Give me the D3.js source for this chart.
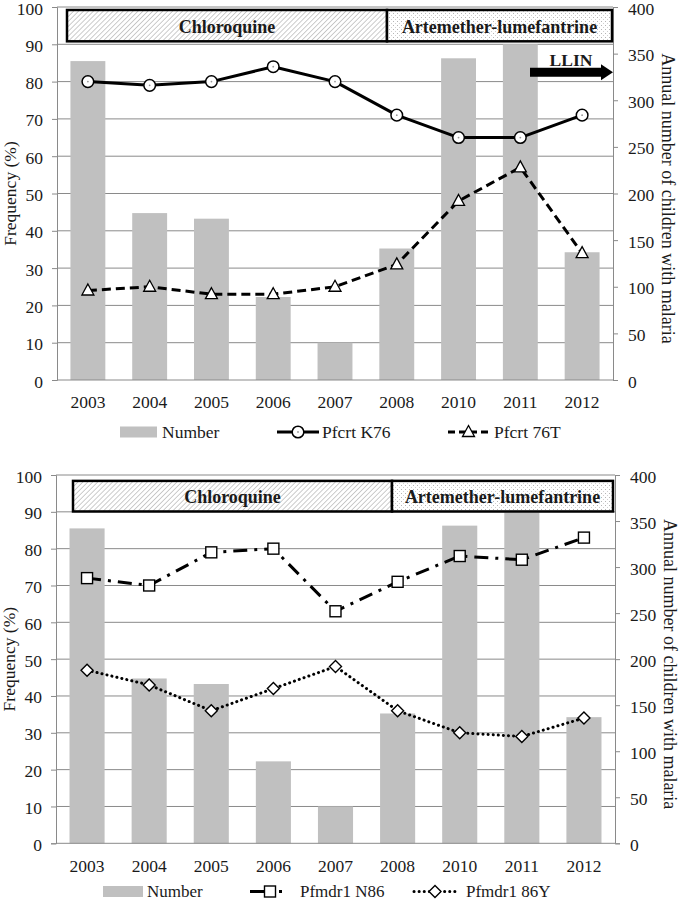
<!DOCTYPE html>
<html>
<head>
<meta charset="utf-8">
<script src="https://cdn.jsdelivr.net/npm/d3@7"></script>
<style>
  html, body { margin: 0; padding: 0; background: #fff; }
  svg { display: block; }
  text { font-family: "Liberation Serif", "Times New Roman", serif; fill: #1a1a1a; }
</style>
</head>
<body>
<svg id="chart" width="680" height="902"></svg>
<script>
// ---------- DATA ----------
const years = ["2003", "2004", "2005", "2006", "2007", "2008", "2010", "2011", "2012"];
const numberChildren = [342, 179, 173, 89, 40, 141, 345, 360, 137];
const pfcrtK76 = [80, 79, 80, 84, 80, 71, 65, 65, 71];
const pfcrt76T = [24, 25, 23, 23, 25, 31, 48, 57, 34];
const pfmdr1N86 = [72, 70, 79, 80, 63, 71, 78, 77, 83];
const pfmdr1_86Y = [47, 43, 36, 42, 48, 36, 30, 29, 34];
const leftTicks = [0, 10, 20, 30, 40, 50, 60, 70, 80, 90, 100];
const rightTicks = [0, 50, 100, 150, 200, 250, 300, 350, 400];
const drugLabels = ["Chloroquine", "Artemether-lumefantrine"];
const legendTop = ["Number", "Pfcrt K76", "Pfcrt 76T"];
const legendBottom = ["Number", "Pfmdr1 N86", "Pfmdr1 86Y"];

const svg = d3.select("#chart");
const defs = svg.append("defs");

// hatch pattern
const hatch = defs.append("pattern").attr("id", "hatch")
  .attr("patternUnits", "userSpaceOnUse").attr("width", 3.5).attr("height", 3.5)
  .attr("patternTransform", "rotate(45)");
hatch.append("rect").attr("width", 3.5).attr("height", 3.5).attr("fill", "#fff");
hatch.append("line").attr("x1", 0).attr("y1", 0).attr("x2", 0).attr("y2", 3.5)
  .attr("stroke", "#9a9a9a").attr("stroke-width", 1);
// dotted pattern
const dots = defs.append("pattern").attr("id", "dots")
  .attr("patternUnits", "userSpaceOnUse").attr("width", 4).attr("height", 4);
dots.append("rect").attr("width", 4).attr("height", 4).attr("fill", "#fff");
dots.append("rect").attr("x", 1).attr("y", 1).attr("width", 1).attr("height", 1).attr("fill", "#b5b5b5");
dots.append("rect").attr("x", 3).attr("y", 3).attr("width", 1).attr("height", 1).attr("fill", "#d0d0d0");

const BAR = "#c0c0c0";
const GRID = "#8a8a8a";
const FONT = 17.5;

function marker(sel, type, x, y) {
  const g = sel.append("g").attr("transform", `translate(${x},${y})`);
  if (type === "circle") {
    g.append("circle").attr("r", 5.8).attr("fill", "#fff").attr("stroke", "#000").attr("stroke-width", 1.5);
    g.append("circle").attr("r", 0.9).attr("fill", "#999");
  } else if (type === "triangle") {
    g.append("path").attr("d", "M0,-6.5 L6,4.5 L-6,4.5 Z").attr("fill", "#fff").attr("stroke", "#000").attr("stroke-width", 1.3);
  } else if (type === "square") {
    g.append("rect").attr("x", -5.5).attr("y", -5.5).attr("width", 11).attr("height", 11)
      .attr("fill", "#fff").attr("stroke", "#000").attr("stroke-width", 1.4);
  } else if (type === "diamond") {
    g.append("path").attr("d", "M0,-6 L6,0 L0,6 L-6,0 Z").attr("fill", "#fff").attr("stroke", "#000").attr("stroke-width", 1.4);
  }
}

function panel(cfg) {
  const g = svg.append("g");
  const x = d3.scaleBand().domain(years).range([cfg.left, cfg.right]).paddingInner(0.435).paddingOuter(0.2175);
  const y = d3.scaleLinear().domain([0, 100]).range([cfg.bottom, cfg.top]);
  const y2 = d3.scaleLinear().domain([0, 400]).range([cfg.bottom, cfg.top]);

  // gridlines
  g.append("g").selectAll("line").data(leftTicks.filter(d => d > 0)).join("line")
    .attr("x1", cfg.left).attr("x2", cfg.right)
    .attr("y1", d => y(d)).attr("y2", d => y(d))
    .attr("stroke", GRID).attr("stroke-width", 1);

  // bars
  g.append("g").selectAll("rect").data(numberChildren).join("rect")
    .attr("x", (d, i) => x(years[i])).attr("width", x.bandwidth())
    .attr("y", d => y2(d)).attr("height", d => y2(0) - y2(d))
    .attr("fill", BAR);

  // left axis
  const la = g.append("g").attr("transform", `translate(${cfg.left},0)`)
    .call(d3.axisLeft(y).tickValues(leftTicks).tickSize(5).tickPadding(9));
  la.select(".domain").attr("stroke", GRID);
  la.selectAll(".tick line").attr("stroke", GRID);
  la.selectAll("text").attr("font-size", FONT).attr("dy", "0.4em").attr("fill", "#1a1a1a");

  // right axis
  const ra = g.append("g").attr("transform", `translate(${cfg.right},0)`)
    .call(d3.axisRight(y2).tickValues(rightTicks).tickSize(5).tickPadding(10));
  ra.select(".domain").attr("stroke", GRID);
  ra.selectAll(".tick line").attr("stroke", GRID);
  ra.selectAll("text").attr("font-size", FONT).attr("dy", "0.4em").attr("fill", "#1a1a1a");

  // bottom axis
  const ba = g.append("g").attr("transform", `translate(0,${cfg.bottom})`)
    .call(d3.axisBottom(x).tickSize(0).tickPadding(16));
  ba.select(".domain").attr("stroke", GRID).attr("d", `M${cfg.left},0H${cfg.right}`);
  ba.selectAll("text").attr("font-size", FONT).attr("fill", "#1a1a1a");

  // axis titles
  g.append("text").attr("transform", `translate(${cfg.left - 47},${(cfg.top + cfg.bottom) / 2}) rotate(-90)`)
    .attr("text-anchor", "middle").attr("dominant-baseline", "central").attr("font-size", FONT)
    .text("Frequency (%)");
  g.append("text").attr("transform", `translate(${cfg.right + 55},${(cfg.top + cfg.bottom) / 2 + 5}) rotate(90)`)
    .attr("text-anchor", "middle").attr("dominant-baseline", "central").attr("font-size", 18)
    .text("Annual number of children with malaria");

  // header drug box
  const hb = cfg.header;
  const hy0 = y(hb.yTop), hy1 = y(hb.yBot);
  g.append("rect").attr("x", hb.x0).attr("y", hy0).attr("width", hb.xm - hb.x0).attr("height", hy1 - hy0)
    .attr("fill", "url(#hatch)").attr("stroke", "#000").attr("stroke-width", 2.5);
  g.append("rect").attr("x", hb.xm).attr("y", hy0).attr("width", hb.x1 - hb.xm).attr("height", hy1 - hy0)
    .attr("fill", "url(#dots)").attr("stroke", "#000").attr("stroke-width", 2.5);
  g.append("text").attr("x", (hb.x0 + hb.xm) / 2).attr("y", (hy0 + hy1) / 2 + 1).attr("text-anchor", "middle")
    .attr("dominant-baseline", "central").attr("font-size", 18).attr("font-weight", "bold").text(drugLabels[0]);
  g.append("text").attr("x", (hb.xm + hb.x1) / 2).attr("y", (hy0 + hy1) / 2 + 1).attr("text-anchor", "middle")
    .attr("dominant-baseline", "central").attr("font-size", 18).attr("font-weight", "bold").text(drugLabels[1]);

  // lines
  cfg.series.forEach(s => {
    const line = d3.line().x((d, i) => x(years[i]) + x.bandwidth() / 2).y(d => y(d));
    g.append("path").datum(s.values).attr("d", line).attr("fill", "none")
      .attr("stroke", "#000").attr("stroke-width", 3)
      .attr("stroke-dasharray", s.dash).attr("stroke-linecap", s.cap || "butt").attr("stroke-linejoin", "round");
    s.values.forEach((v, i) => marker(g, s.marker, x(years[i]) + x.bandwidth() / 2, y(v)));
  });

  // legend
  const ly = cfg.legendY;
  const L = cfg.legend;
  g.append("rect").attr("x", L[0].sx).attr("y", ly - 5.5).attr("width", L[0].sw).attr("height", 11).attr("fill", BAR);
  g.append("text").attr("x", L[0].tx).attr("y", ly).attr("dominant-baseline", "central").attr("font-size", cfg.legendFont).text(L[0].label);
  cfg.series.forEach((s, k) => {
    const it = L[k + 1];
    g.append("line").attr("x1", it.sx).attr("x2", it.sx + it.sw).attr("y1", ly).attr("y2", ly)
      .attr("stroke", "#000").attr("stroke-width", 3).attr("stroke-dasharray", s.legendDash || s.dash)
      .attr("stroke-linecap", s.cap || "butt");
    marker(g, s.marker, it.sx + it.sw / 2, ly);
    g.append("text").attr("x", it.tx).attr("y", ly).attr("dominant-baseline", "central").attr("font-size", cfg.legendFont).text(it.label);
  });

  return { g, x, y, y2 };
}

// ---------- TOP PANEL ----------
const topPanel = panel({
  left: 57, right: 613, top: 7, bottom: 380,
  header: { x0: 67, xm: 387, x1: 612, yTop: 99.2, yBot: 90.8 },
  series: [
    { values: pfcrtK76, marker: "circle", dash: null },
    { values: pfcrt76T, marker: "triangle", dash: "9,5", legendDash: "7,4" }
  ],
  legendY: 432,
  legendFont: FONT,
  legend: [
    { label: legendTop[0], sx: 120, sw: 37, tx: 162 },
    { label: legendTop[1], sx: 277, sw: 42, tx: 322 },
    { label: legendTop[2], sx: 448, sw: 41, tx: 494 }
  ]
});

// LLIN annotation
{
  const yv = topPanel.y2;
  const ay = yv(330);
  topPanel.g.append("path")
    .attr("d", `M530,${ay - 4.5} L601,${ay - 4.5} L601,${ay - 8} L613,${ay} L601,${ay + 8} L601,${ay + 4.5} L530,${ay + 4.5} Z`)
    .attr("fill", "#000");
  topPanel.g.append("text").attr("x", 571).attr("y", ay - 6.5).attr("text-anchor", "middle")
    .attr("font-size", 17.5).attr("font-weight", "bold").text("LLIN");
}

// ---------- BOTTOM PANEL ----------
panel({
  left: 56, right: 615, top: 475, bottom: 843.3,
  header: { x0: 73, xm: 392, x1: 613, yTop: 98.4, yBot: 90.1 },
  series: [
    { values: pfmdr1N86, marker: "square", dash: "14,7,3,7", legendDash: "15,14,3,30" },
    { values: pfmdr1_86Y, marker: "diamond", dash: "0.1,5", cap: "round" }
  ],
  legendY: 891.5,
  legendFont: 17,
  legend: [
    { label: legendBottom[0], sx: 103, sw: 40, tx: 147 },
    { label: legendBottom[1], sx: 250, sw: 40, tx: 300 },
    { label: legendBottom[2], sx: 414, sw: 42, tx: 466 }
  ]
});
</script>
</body>
</html>
